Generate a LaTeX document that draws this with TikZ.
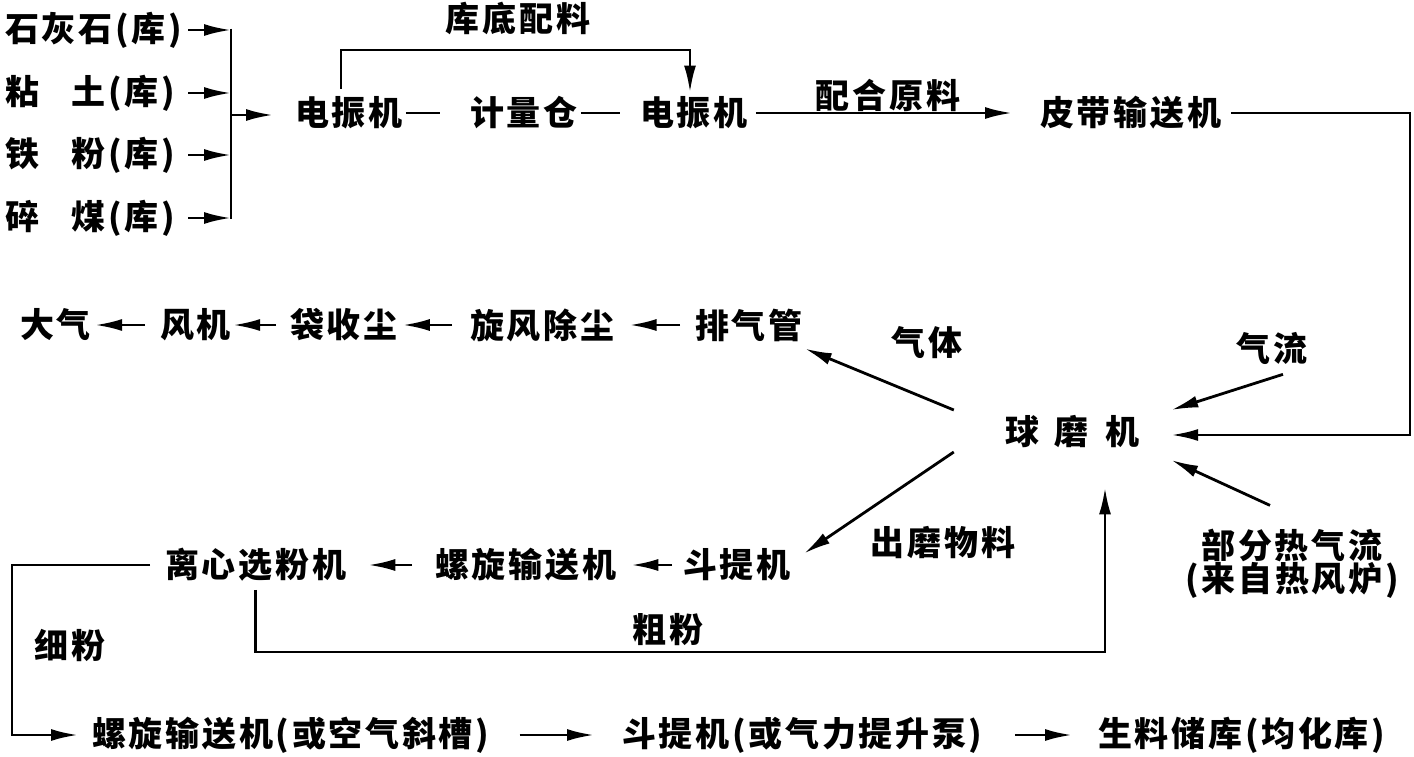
\documentclass[tikz,border=0pt]{standalone}
\usepackage{fontspec}
\setmainfont{Noto Sans CJK SC}[LetterSpace=8]
\usetikzlibrary{arrows.meta}
\begin{document}
\begin{tikzpicture}[x=1pt,y=-1pt,
  every node/.style={font=\fontsize{34}{38}\selectfont\bfseries, inner sep=0pt},
  txt/.style={anchor=west},
  arr/.style={line width=2.8pt, -{Latex[length=27pt,width=12pt]}},
  ln/.style={line width=2.8pt}]
\useasboundingbox (0,0) rectangle (1414,757);

% left sources
\node[txt] (lime) at (5,30) {\makebox[170pt][l]{石灰石(库)}};
\node[txt] (clay) at (5,93) {\makebox[170pt][l]{粘\hfill 土(库)}};
\node[txt] (iron) at (5,155) {\makebox[170pt][l]{铁\hfill 粉(库)}};
\node[txt] (coal) at (5,218) {\makebox[170pt][l]{碎\hfill 煤(库)}};
\coordinate (b1) at (231,30);
\coordinate (b2) at (231,93);
\coordinate (b3) at (231,155);
\coordinate (b4) at (231,218);
\coordinate (bm) at (231,115);

% top row
\node[txt] (zd1) at (295,113) {电振机};
\node[txt] (jl) at (470,113) {计量仓};
\node[txt] (zd2) at (640,113) {电振机};
\node[txt] (pd) at (1040,113) {皮带输送机};
\node (kdl) at (518,18) {库底配料};
\node (phl) at (888,95) {配合原料};
\coordinate (k2) at (690,50);

\draw[arr,shorten <=13pt] (lime.east) -- (b1);
\draw[arr,shorten <=13pt] (clay.east) -- (b2);
\draw[arr,shorten <=13pt] (iron.east) -- (b3);
\draw[arr,shorten <=13pt] (coal.east) -- (b4);
\draw[ln] ([yshift=1.4pt]b1) -- ([yshift=-1.4pt]b4);
\draw[arr,shorten >=22pt] (bm) -- (bm -| zd1.west);
\draw[ln,shorten <=3pt,shorten >=30pt] (zd1.east) -- (jl.west);
\draw[ln,shorten <=3pt,shorten >=20pt] (jl.east) -- (zd2.west);
\draw[arr,shorten <=8pt,shorten >=28pt] (zd2.east) -- (pd.west);
\draw[arr,shorten <=8pt,shorten >=4pt] ([xshift=-8pt]zd1.north) |- (k2) -- (k2 |- zd2.north);

% ball mill
\node (qm) at (1072,432) {球\hspace{16pt}磨\hspace{16pt}机};
\coordinate (r1) at (1410,113);
\coordinate (r2) at (1410,435);
\draw[arr,shorten >=32pt] ([xshift=10pt]pd.east) -- (r1) -- (r2) -- (r2 -| qm.east);

% middle row
\node[txt] (dq) at (20,325) {大气};
\node[txt] (fj) at (160,325) {风机};
\node[txt] (ds) at (290,325) {袋收尘};
\node[txt] (xf) at (470,325) {旋风除尘};
\node[txt] (pq) at (695,325) {排气管};
\draw[arr,shorten <=15pt,shorten >=15pt] (pq.west) -- (xf.east);
\draw[arr,shorten <=18pt,shorten >=5pt] (xf.west) -- (ds.east);
\draw[arr,shorten <=14pt,shorten >=2pt] (ds.west) -- (fj.east);
\draw[arr,shorten <=15pt,shorten >=4pt] (fj.west) -- (dq.east);

\node (qt) at (927,343) {气体};
\node (ql) at (1272,348) {气流};
\node (bf1) at (1292,545) {部分热气流};
\node (bf2) at (1292,580) {(来自热风炉)};
\node (cm) at (943,543) {出磨物料};

% lower chain
\node[txt] (lxf) at (165,565) {离心选粉机};
\node[txt] (lsj) at (435,565) {螺旋输送机};
\node[txt] (dtj) at (683,565) {斗提机};
\draw[arr,shorten <=11pt,shorten >=15pt] (dtj.west) -- (lsj.east);
\draw[arr,shorten <=23pt,shorten >=22pt] (lsj.west) -- (lxf.east);

\draw[arr] ([xshift=-51pt,yshift=22pt]qm.west) -- ([xshift=2pt,yshift=-7pt]pq.south east);
\draw[arr] ([xshift=-51pt,yshift=-20pt]qm.west) -- ([xshift=13pt,yshift=-5pt]dtj.north east);
\draw[arr] ([xshift=11pt,yshift=-10pt]ql.south) -- ([xshift=32pt,yshift=22pt]qm.east);
\draw[arr] ([xshift=-22pt,yshift=23pt]bf1.north) -- ([xshift=32pt,yshift=-28pt]qm.east);

\node (cf) at (668,630) {粗粉};
\coordinate (cb) at (1105,652);
\draw[arr] ([yshift=-8pt]lxf.south) |- (cb) -- ([xshift=33pt,yshift=-39pt]qm.south);

% fine powder and bottom row
\node (xfl) at (70,645) {细粉};
\node[txt] (lb1) at (92,735) {螺旋输送机(或空气斜槽)};
\node[txt] (lb2) at (622,735) {斗提机(或气力提升泵)};
\node[txt] (lb3) at (1098,735) {生料储库(均化库)};
\coordinate (f1) at (12,565);
\coordinate (f2) at (12,735);
\draw[arr,shorten >=14pt] ([xshift=-15pt]lxf.west) -- (f1) -- (f2) -- (f2 -| lb1.west);
\draw[arr,shorten <=30pt,shorten >=28pt] (lb1.east) -- (lb2.west);
\draw[arr,shorten <=32pt,shorten >=26pt] (lb2.east) -- (lb3.west);
\end{tikzpicture}
\end{document}
